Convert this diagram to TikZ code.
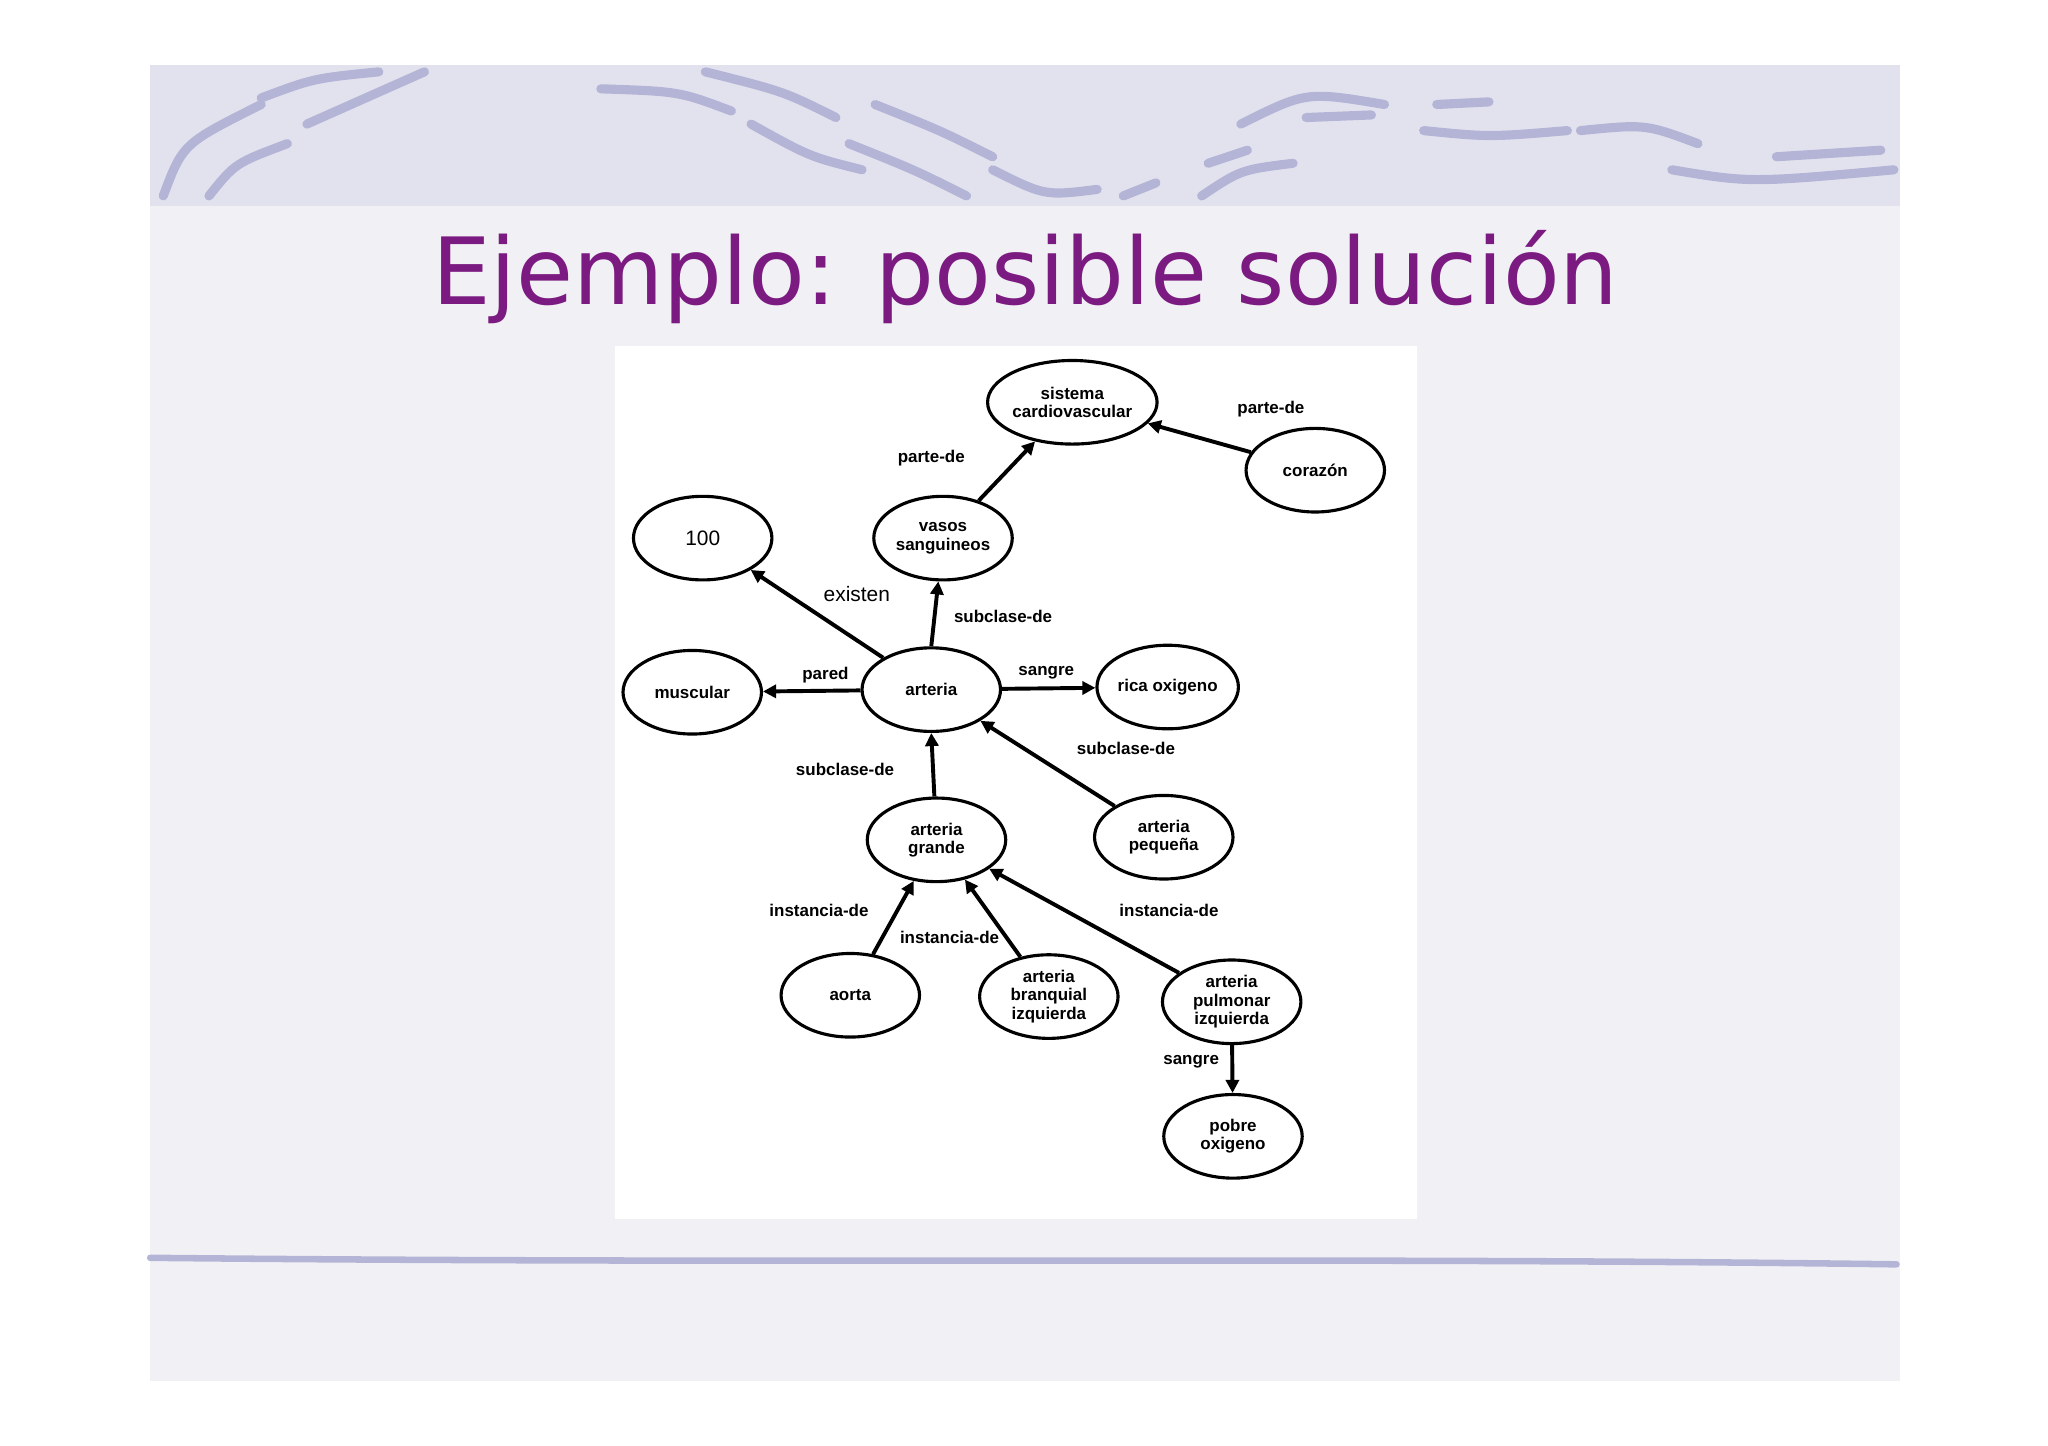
\documentclass[tikz,border=0pt]{standalone}
\usepackage{fontspec}
\setmainfont{Liberation Sans}
\newfontfamily\titlefont{DejaVu Sans}
\usetikzlibrary{shapes.geometric,arrows.meta}
\definecolor{slidebg}{HTML}{F1F1F5}
\definecolor{band}{HTML}{E2E2EE}
\definecolor{swoosh}{HTML}{B4B4D6}
\definecolor{titlec}{HTML}{7B1A80}
\tikzset{
 concept/.style={ellipse,draw,line width=2.4pt,minimum width=106pt,minimum height=64pt,inner sep=0pt,align=center,font=\bfseries\fontsize{13}{14}\selectfont},
 rel/.style={line width=3pt,-{Triangle[length=10pt,width=10pt]}},
 lab/.style={font=\bfseries\fontsize{13}{14}\selectfont},
 sw/.style={swoosh,line width=7pt,line cap=round}
}
\begin{document}
\begin{tikzpicture}[x=1pt,y=-1pt]
\useasboundingbox (0,0) rectangle (1568,1107);
\fill[white] (0,0) rectangle (1568,1107);
\fill[slidebg] (115,50) rectangle (1455,1057);
\fill[band] (115,50) rectangle (1455,158);
\draw[sw] (125,150) .. controls (140,110) .. (200,80);
\draw[sw] (160,150) .. controls (180,125) .. (220,110);
\draw[sw] (200,75) .. controls (240,60) .. (290,55);
\draw[sw] (235,95) .. controls (280,75) .. (325,55);
\draw[sw] (460,68) .. controls (520,70) .. (560,85);
\draw[sw] (540,55) .. controls (600,70) .. (640,90);
\draw[sw] (575,95) .. controls (620,120) .. (660,130);
\draw[sw] (650,110) .. controls (700,130) .. (740,150);
\draw[sw] (670,80) .. controls (720,100) .. (760,120);
\draw[sw] (760,130) .. controls (800,150) .. (840,145);
\draw[sw] (860,150) -- (885,140);
\draw[sw] (920,150) .. controls (950,130) .. (990,125);
\draw[sw] (925,125) -- (955,115);
\draw[sw] (950,95) .. controls (1000,70) .. (1060,80);
\draw[sw] (1000,90) -- (1050,88);
\draw[sw] (1090,100) .. controls (1140,105) .. (1200,100);
\draw[sw] (1100,80) -- (1140,78);
\draw[sw] (1210,100) .. controls (1260,95) .. (1300,110);
\draw[sw] (1280,130) .. controls (1340,140) .. (1450,130);
\draw[sw] (1360,120) -- (1440,115);
\draw[swoosh,line width=5pt,line cap=round] (115,963) .. controls (600,968) and (1000,962) .. (1452,968);
\node[font=\titlefont\fontsize{71}{80}\selectfont,text=titlec] (title) at (785,212) {Ejemplo: posible solución};
\fill[white] (471,265) rectangle (1085,933);
\node[concept] (sis) at (821,308) {sistema\\cardiovascular};
\node[concept] (cor) at (1007,360) {corazón};
\node[concept] (vas) at (722,412) {vasos\\sanguineos};
\node[concept,font=\fontsize{16}{18}\selectfont] (cien) at (538,412) {100};
\node[concept] (art) at (713,528) {arteria};
\node[concept] (mus) at (530,530) {muscular};
\node[concept] (rica) at (894,526) {rica oxigeno};
\node[concept] (gra) at (717,643) {arteria\\grande};
\node[concept] (peq) at (891,641) {arteria\\pequeña};
\node[concept] (aor) at (651,762) {aorta};
\node[concept] (bra) at (803,763) {arteria\\branquial\\izquierda};
\node[concept] (pul) at (943,767) {arteria\\pulmonar\\izquierda};
\node[concept] (pob) at (944,870) {pobre\\oxigeno};
\draw[rel] (vas) -- (sis);
\draw[rel] (cor) -- (sis);
\draw[rel] (art) -- (cien);
\draw[rel] (art.north) -- (vas);
\draw[rel] (art) -- (mus);
\draw[rel] (art) -- (rica);
\draw[rel] (peq) -- (art);
\draw[rel] (gra) -- (art.south);
\draw[rel] (aor) -- (gra);
\draw[rel] (bra) -- (gra);
\draw[rel] (pul) -- (gra);
\draw[rel] (pul) -- (pob);
\node[lab] (l1) at (713,351) {parte-de};
\node[lab] (l2) at (973,313) {parte-de};
\node[font=\fontsize{16}{18}\selectfont] (l3) at (656,455) {existen};
\node[lab] (l4) at (768,472) {subclase-de};
\node[lab] (l5) at (632,517) {pared};
\node[lab] (l6) at (801,515) {sangre};
\node[lab] (l7) at (862,573) {subclase-de};
\node[lab] (l8) at (647,589) {subclase-de};
\node[lab] (l9) at (627,697) {instancia-de};
\node[lab] (l10) at (727,718) {instancia-de};
\node[lab] (l11) at (895,697) {instancia-de};
\node[lab] (l12) at (912,813) {sangre};
\end{tikzpicture}
\end{document}
